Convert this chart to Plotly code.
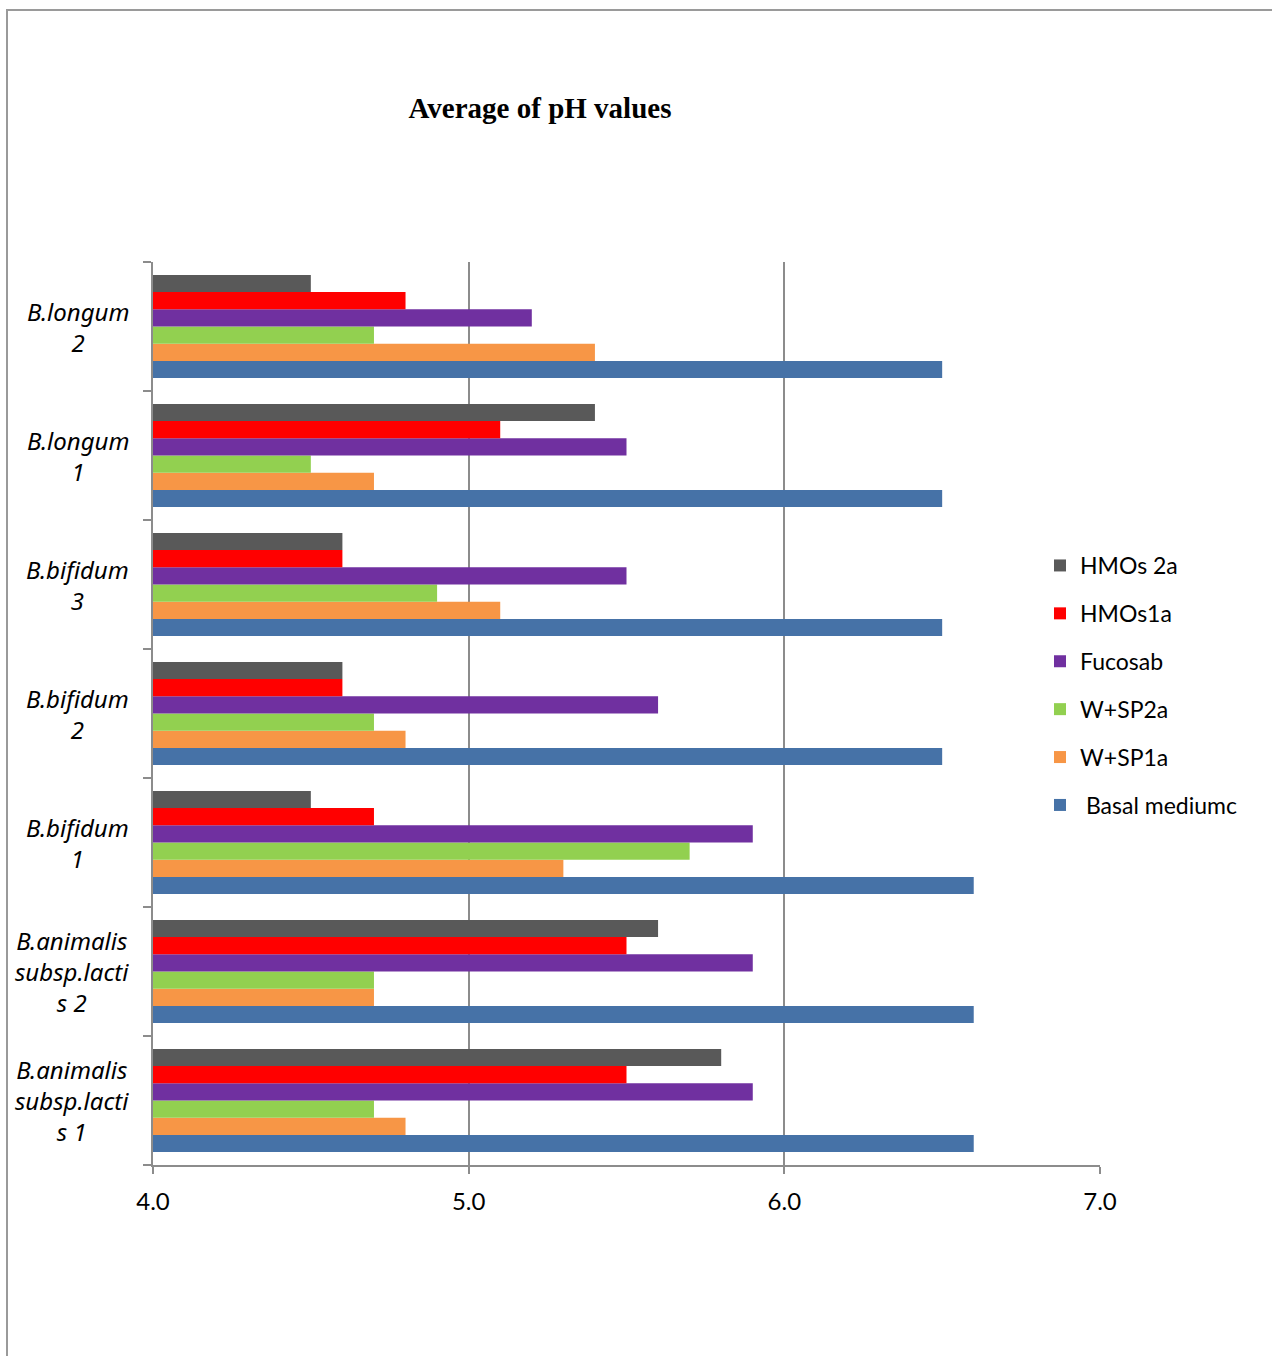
import plotly.graph_objects as go

# Categories listed bottom-to-top (Plotly draws the first category at the bottom)
categories = ["B.animalis subsp.lactis 1", "B.animalis subsp.lactis 2", "B.bifidum 1",
              "B.bifidum 2", "B.bifidum 3", "B.longum 1", "B.longum 2"]
category_labels = ["B.animalis<br>subsp.lacti<br>s 1", "B.animalis<br>subsp.lacti<br>s 2",
                   "B.bifidum<br>1", "B.bifidum<br>2", "B.bifidum<br>3",
                   "B.longum<br>1", "B.longum<br>2"]

basal_medium = [6.6, 6.6, 6.6, 6.5, 6.5, 6.5, 6.5]
wsp1a = [4.8, 4.7, 5.3, 4.8, 5.1, 4.7, 5.4]
wsp2a = [4.7, 4.7, 5.7, 4.7, 4.9, 4.5, 4.7]
fucosab = [5.9, 5.9, 5.9, 5.6, 5.5, 5.5, 5.2]
hmos1a = [5.5, 5.5, 4.7, 4.6, 4.6, 5.1, 4.8]
hmos2a = [5.8, 5.6, 4.5, 4.6, 4.6, 5.4, 4.5]

series_names = [" Basal mediumc", "W+SP1a", "W+SP2a", "Fucosab", "HMOs1a", "HMOs 2a"]
series_values = [basal_medium, wsp1a, wsp2a, fucosab, hmos1a, hmos2a]
series_colors = ["#4672A7", "#F79646", "#92D050", "#7030A0", "#FF0000", "#595959"]

x_ticks = [4.0, 5.0, 6.0, 7.0]
x_ticklabels = ["4.0", "5.0", "6.0", "7.0"]

fig = go.Figure()
n = len(series_names)
for i, (name, vals, col) in enumerate(zip(series_names, series_values, series_colors)):
    fig.add_trace(go.Bar(
        y=categories, x=vals, name=name, orientation="h",
        marker=dict(color=col, line=dict(width=0)),
        legendgroup=name, legendrank=n - i,
    ))

W, H = 1272, 1356
L, R, T, B = 153, 172, 262, 191
pw, ph = W - L - R, H - T - B

def px_to_paper_x(px):
    return (px - L) / pw

def px_to_paper_y(py):
    return 1 - (py - T) / ph

for cat, lab in zip(categories, category_labels):
    fig.add_annotation(
        x=px_to_paper_x(131), xref="paper", y=cat, yref="y",
        text=lab, showarrow=False, xanchor="right", yanchor="middle", align="center",
        font=dict(family="Noto Sans", size=24, color="black", style="italic"),
    )

# outer frame
fig.add_shape(type="rect", xref="paper", yref="paper",
              x0=px_to_paper_x(7), x1=px_to_paper_x(1400),
              y0=px_to_paper_y(1500), y1=px_to_paper_y(10),
              line=dict(color="#9a9a9a", width=2), fillcolor="rgba(0,0,0,0)", layer="below")

fig.update_layout(
    width=W, height=H,
    margin=dict(l=L, r=R, t=T, b=B),
    paper_bgcolor="white", plot_bgcolor="white",
    barmode="group", bargap=0.2, bargroupgap=0,
    title=dict(text="<b>Average of pH values</b>", x=540 / W, xref="container", xanchor="center",
               y=1 - 108 / H, yref="container", yanchor="middle",
               font=dict(family="Liberation Serif", size=29, color="black")),
    showlegend=True,
    legend=dict(x=px_to_paper_x(1040), xanchor="left", y=px_to_paper_y(544), yanchor="top",
                traceorder="grouped", tracegroupgap=15,
                font=dict(family="Lato", size=23, color="black"),
                bgcolor="rgba(0,0,0,0)", borderwidth=0),
    font=dict(family="Lato", color="black"),
)

fig.update_xaxes(range=[4.0, 7.0], tickvals=x_ticks, ticktext=x_ticklabels,
                 showgrid=True, gridcolor="#8c8c8c", gridwidth=2,
                 showline=True, linecolor="#8c8c8c", linewidth=2,
                 ticks="outside", ticklen=7, tickcolor="#8c8c8c", tickwidth=2,
                 ticklabelstandoff=7,
                 tickfont=dict(family="Lato", size=24, color="black"),
                 zeroline=False, fixedrange=True)
fig.update_yaxes(type="category", categoryorder="array", categoryarray=categories,
                 showticklabels=False, showgrid=False,
                 showline=True, linecolor="#8c8c8c", linewidth=2,
                 ticks="outside", ticklen=8, tickcolor="#8c8c8c", tickwidth=2,
                 tickson="boundaries", fixedrange=True)

fig.write_html("out.html")
